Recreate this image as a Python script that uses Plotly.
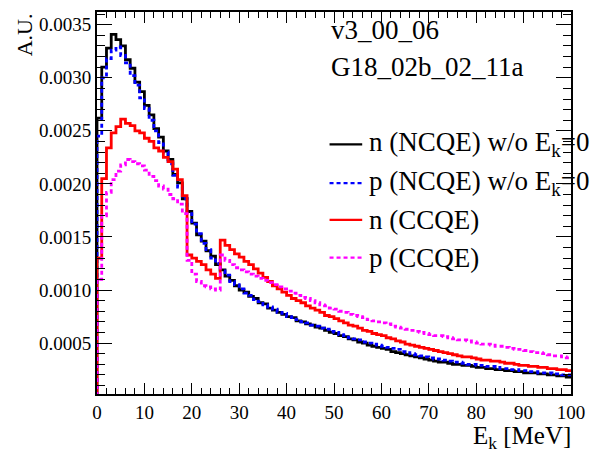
import plotly.graph_objects as go

# Bin edges: 1 MeV bins from 0 to 100 MeV
bin_edges = list(range(0, 101))

n_ncqe = [0.00262, 0.00310, 0.00328, 0.00341, 0.00336, 0.00330, 0.00317, 0.00309, 0.00296, 0.00287,
          0.00274, 0.00265, 0.00252, 0.00244, 0.00231, 0.00223, 0.00209, 0.00201, 0.00186, 0.00174,
          0.00163, 0.00152, 0.00146, 0.00137, 0.00132, 0.00124, 0.00119, 0.00113, 0.00109, 0.00104,
          0.00100, 0.00098, 0.00094, 0.00092, 0.00088, 0.00087, 0.00083, 0.00081, 0.00079, 0.00077,
          0.00075, 0.00074, 0.00071, 0.00070, 0.00068, 0.00067, 0.00065, 0.00064, 0.00062, 0.00060,
          0.00059, 0.00057, 0.00056, 0.00054, 0.00053, 0.00051, 0.00050, 0.00048, 0.00047, 0.00046,
          0.00045, 0.00044, 0.00042, 0.00041, 0.00040, 0.00039, 0.00038, 0.00037, 0.00036, 0.00035,
          0.00034, 0.00033, 0.00032, 0.00032, 0.00031, 0.00030, 0.00030, 0.00029, 0.00029, 0.00028,
          0.00027, 0.00027, 0.00026, 0.00026, 0.00025, 0.00025, 0.00024, 0.00024, 0.00023, 0.00023,
          0.00022, 0.00022, 0.00022, 0.00021, 0.00021, 0.00020, 0.00020, 0.00019, 0.00019, 0.00018]

p_ncqe = [0.00245, 0.00300, 0.00318, 0.00326, 0.00329, 0.00321, 0.00314, 0.00302, 0.00293, 0.00281,
          0.00271, 0.00260, 0.00250, 0.00239, 0.00230, 0.00219, 0.00208, 0.00197, 0.00186, 0.00172,
          0.00162, 0.00153, 0.00144, 0.00138, 0.00130, 0.00125, 0.00118, 0.00114, 0.00108, 0.00105,
          0.00101, 0.00097, 0.00095, 0.00091, 0.00089, 0.00086, 0.00084, 0.00082, 0.00079, 0.00078,
          0.00075, 0.00074, 0.00072, 0.00070, 0.00069, 0.00067, 0.00066, 0.00064, 0.00063, 0.00061,
          0.00060, 0.00058, 0.00057, 0.00055, 0.00054, 0.00053, 0.00051, 0.00050, 0.00049, 0.00048,
          0.00047, 0.00046, 0.00045, 0.00044, 0.00042, 0.00041, 0.00040, 0.00039, 0.00038, 0.00037,
          0.00036, 0.00035, 0.00035, 0.00034, 0.00033, 0.00032, 0.00032, 0.00031, 0.00030, 0.00030,
          0.00029, 0.00029, 0.00028, 0.00028, 0.00027, 0.00026, 0.00026, 0.00025, 0.00025, 0.00024,
          0.00024, 0.00023, 0.00023, 0.00022, 0.00022, 0.00022, 0.00021, 0.00021, 0.00020, 0.00020]

n_ccqe = [0.00130, 0.00205, 0.00234, 0.00248, 0.00254, 0.00261, 0.00257, 0.00255, 0.00250, 0.00248,
          0.00243, 0.00240, 0.00234, 0.00231, 0.00225, 0.00221, 0.00214, 0.00204, 0.00189, 0.00133,
          0.00130, 0.00127, 0.00124, 0.00119, 0.00115, 0.00111, 0.00147, 0.00142, 0.00138, 0.00134,
          0.00131, 0.00127, 0.00124, 0.00120, 0.00116, 0.00112, 0.00108, 0.00104, 0.00101, 0.00098,
          0.00095, 0.00092, 0.00090, 0.00088, 0.00085, 0.00083, 0.00081, 0.00079, 0.00076, 0.00075,
          0.00073, 0.00071, 0.00069, 0.00067, 0.00066, 0.00064, 0.00062, 0.00061, 0.00059, 0.00058,
          0.00057, 0.00055, 0.00054, 0.00052, 0.00051, 0.00049, 0.00048, 0.00047, 0.00046, 0.00045,
          0.00044, 0.00043, 0.00042, 0.00041, 0.00040, 0.00039, 0.00038, 0.00037, 0.00037, 0.00036,
          0.00035, 0.00034, 0.00034, 0.00033, 0.00033, 0.00032, 0.00031, 0.00031, 0.00030, 0.00029,
          0.00029, 0.00028, 0.00028, 0.00027, 0.00027, 0.00026, 0.00026, 0.00025, 0.00025, 0.00024]

p_ccqe = [0.00110, 0.00170, 0.00192, 0.00204, 0.00212, 0.00218, 0.00223, 0.00221, 0.00219, 0.00217,
          0.00213, 0.00207, 0.00203, 0.00198, 0.00195, 0.00190, 0.00186, 0.00181, 0.00172, 0.00128,
          0.00115, 0.00108, 0.00104, 0.00103, 0.00101, 0.00100, 0.00133, 0.00128, 0.00124, 0.00121,
          0.00119, 0.00117, 0.00115, 0.00113, 0.00111, 0.00109, 0.00107, 0.00105, 0.00103, 0.00101,
          0.00099, 0.00097, 0.00095, 0.00093, 0.00092, 0.00090, 0.00088, 0.00086, 0.00085, 0.00083,
          0.00082, 0.00080, 0.00079, 0.00077, 0.00076, 0.00075, 0.00074, 0.00072, 0.00071, 0.00070,
          0.00069, 0.00068, 0.00066, 0.00065, 0.00064, 0.00063, 0.00062, 0.00061, 0.00060, 0.00059,
          0.00058, 0.00057, 0.00057, 0.00056, 0.00055, 0.00054, 0.00053, 0.00053, 0.00052, 0.00051,
          0.00050, 0.00049, 0.00049, 0.00048, 0.00047, 0.00047, 0.00046, 0.00045, 0.00044, 0.00044,
          0.00043, 0.00042, 0.00041, 0.00041, 0.00040, 0.00039, 0.00038, 0.00038, 0.00037, 0.00036]

series_names = ["n (NCQE) w/o E<sub>k</sub>=0", "p (NCQE) w/o E<sub>k</sub>=0", "n (CCQE)", "p (CCQE)"]
series_colors = ["#000000", "#0000ff", "#ff0000", "#ff00ff"]
series_dash = ["solid", "4px,3px", "solid", "4px,3px"]
series_values = [n_ncqe, p_ncqe, n_ccqe, p_ccqe]

x_tick_vals = [0, 10, 20, 30, 40, 50, 60, 70, 80, 90, 100]
y_tick_vals = [0.0005, 0.0010, 0.0015, 0.0020, 0.0025, 0.0030, 0.0035]
y_tick_text = ["0.0005", "0.0010", "0.0015", "0.0020", "0.0025", "0.0030", "0.0035"]

FONT = "Liberation Serif"

fig = go.Figure()
for name, col, dash, vals in zip(series_names, series_colors, series_dash, series_values):
    xs = [bin_edges[0]] + bin_edges[:-1] + [bin_edges[-1]]
    ys = [0] + list(vals) + [vals[-1]]
    fig.add_trace(go.Scatter(x=xs, y=ys, mode="lines", name=name, showlegend=False,
                             line=dict(color=col, width=2.8, dash=dash, shape="hv")))

W, H = 595, 456
L, R, T, B = 97, 19, 10, 62

fig.update_layout(
    width=W, height=H,
    margin=dict(l=L, r=R, t=T, b=B),
    paper_bgcolor="white", plot_bgcolor="white",
    font=dict(family=FONT, size=19, color="black"),
    showlegend=False,
)
fig.update_xaxes(
    range=[0, 100], showgrid=False, zeroline=False,
    showline=True, linecolor="black", linewidth=2, mirror="ticks",
    tickmode="array", tickvals=x_tick_vals, ticks="inside", ticklen=11, tickwidth=1, tickcolor="black",
    minor=dict(ticks="inside", ticklen=6, tickwidth=1, tickcolor="black", tick0=0, dtick=2, showgrid=False),
    tickfont=dict(family=FONT, size=19, color="black"),
)
fig.update_yaxes(
    range=[0.00002, 0.00362], showgrid=False, zeroline=False,
    showline=True, linecolor="black", linewidth=2, mirror="ticks",
    tickmode="array", tickvals=y_tick_vals, ticktext=y_tick_text,
    ticks="inside", ticklen=15, tickwidth=1, tickcolor="black",
    minor=dict(ticks="inside", ticklen=8, tickwidth=1, tickcolor="black", tick0=0, dtick=0.0001, showgrid=False),
    tickfont=dict(family=FONT, size=19, color="black"),
)

def px_x(px):
    return (px - L) / (W - L - R)

def px_y(py):
    return 1 - (py - T) / (H - T - B)

# Axis titles
fig.add_annotation(text="A.U.", xref="paper", yref="paper", x=px_x(24), y=px_y(9),
                   xanchor="center", yanchor="top", textangle=-90, showarrow=False,
                   font=dict(family=FONT, size=22, color="black"))
fig.add_annotation(text="E<sub>k</sub> [MeV]", xref="paper", yref="paper", x=px_x(578), y=px_y(455),
                   xanchor="right", yanchor="bottom", showarrow=False,
                   font=dict(family=FONT, size=25, color="black"))

# Legend / labels
fig.add_annotation(text="v3_00_06", xref="paper", yref="paper", x=px_x(331), y=px_y(28),
                   xanchor="left", yanchor="middle", showarrow=False,
                   font=dict(family=FONT, size=27, color="black"))
fig.add_annotation(text="G18_02b_02_11a", xref="paper", yref="paper", x=px_x(331), y=px_y(65),
                   xanchor="left", yanchor="middle", showarrow=False,
                   font=dict(family=FONT, size=27, color="black"))

row_y = [143, 182, 219, 257]
for name, col, dash, py in zip(series_names, series_colors, series_dash, row_y):
    fig.add_shape(type="line", xref="paper", yref="paper", x0=px_x(332), x1=px_x(365),
                  y0=px_y(py), y1=px_y(py), line=dict(color=col, width=2.2, dash=dash))
    fig.add_annotation(text=name, xref="paper", yref="paper", x=px_x(370), y=px_y(py),
                       xanchor="left", yanchor="middle", showarrow=False,
                       font=dict(family=FONT, size=27, color="black"))

fig.write_html("out.html")
